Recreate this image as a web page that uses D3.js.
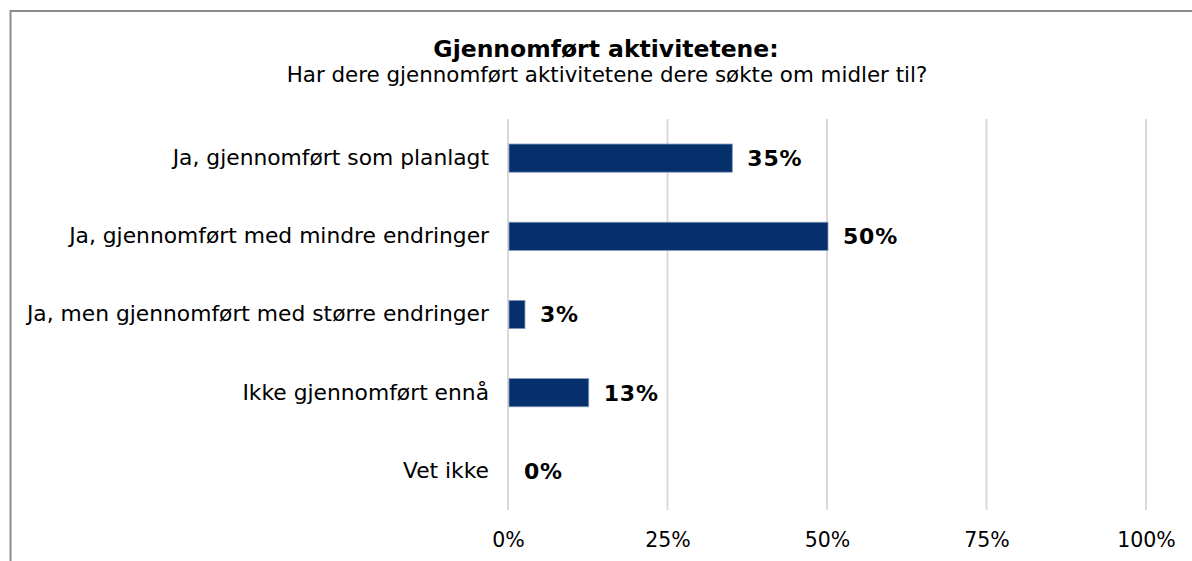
<!DOCTYPE html>
<html>
<head>
<meta charset="utf-8">
<script src="https://cdn.jsdelivr.net/npm/d3@7"></script>
<style>
  body { margin: 0; background: #fff; }
  text { font-family: "DejaVu Sans", Verdana, sans-serif; fill: #000; }
</style>
</head>
<body>
<script>
// chart data
var categories = [
    "Ja, gjennomført som planlagt",
    "Ja, gjennomført med mindre endringer",
    "Ja, men gjennomført med større endringer",
    "Ikke gjennomført ennå",
    "Vet ikke"
];
var values = [35, 50, 2.5, 12.5, 0];
var ticks = [0, 25, 50, 75, 100];

var W = 1192, H = 561;

var svg = d3.select("body").append("svg")
    .attr("width", W)
    .attr("height", H);

// outer frame (right/bottom edges fall outside the view)
svg.append("rect")
    .attr("x", 10.5)
    .attr("y", 11)
    .attr("width", 1200)
    .attr("height", 600)
    .attr("fill", "#fff")
    .attr("stroke", "#8c8c8c")
    .attr("stroke-width", 2);

// titles
svg.append("text")
    .attr("x", 606)
    .attr("y", 57)
    .attr("text-anchor", "middle")
    .style("font-size", "23.5px")
    .style("font-weight", "bold")
    .text("Gjennomført aktivitetene:");

svg.append("text")
    .attr("x", 607)
    .attr("y", 82)
    .attr("text-anchor", "middle")
    .style("font-size", "21.4px")
    .text("Har dere gjennomført aktivitetene dere søkte om midler til?");

// scales
var x = d3.scaleLinear().domain([0, 100]).range([508, 1146]);
var y = d3.scaleBand().domain(categories).range([119, 510])
    .paddingInner(0.64).paddingOuter(0.32);

// gridlines
svg.selectAll(".grid")
    .data(ticks)
    .enter().append("line")
    .attr("class", "grid")
    .attr("x1", function(d) { return x(d); })
    .attr("x2", function(d) { return x(d); })
    .attr("y1", 119)
    .attr("y2", 510)
    .attr("stroke", "#d9d9d9")
    .attr("stroke-width", 2);

// x axis labels
var xAxis = d3.axisBottom(x)
    .tickValues(ticks)
    .tickSize(0)
    .tickPadding(0)
    .tickFormat(function(d) { return d + "%"; });

var gx = svg.append("g")
    .attr("transform", "translate(0,532)")
    .call(xAxis);
gx.select(".domain").remove();
gx.selectAll("text")
    .style("font-family", "'DejaVu Sans', Verdana, sans-serif")
    .style("font-size", "20.5px")
    .attr("fill", "#000");

// category labels
var yAxis = d3.axisLeft(y).tickSize(0).tickPadding(0);
var gy = svg.append("g")
    .attr("transform", "translate(489,0)")
    .call(yAxis);
gy.select(".domain").remove();
gy.selectAll("text")
    .style("font-family", "'DejaVu Sans', Verdana, sans-serif")
    .style("font-size", "21.8px")
    .attr("fill", "#000");

// bars
svg.selectAll(".bar")
    .data(values)
    .enter().append("rect")
    .attr("class", "bar")
    .attr("x", x(0) + 1)
    .attr("y", function(d, i) { return y(categories[i]); })
    .attr("width", function(d) { return Math.max(0, x(d) - x(0)); })
    .attr("height", y.bandwidth())
    .attr("fill", "#06306b")
    .attr("stroke", function(d) { return d > 0 ? "#7d95bd" : "none"; })
    .attr("stroke-width", 0.8);

// value labels
svg.selectAll(".val")
    .data(values)
    .enter().append("text")
    .attr("class", "val")
    .attr("x", function(d) { return x(d) + 16; })
    .attr("y", function(d, i) { return y(categories[i]) + y.bandwidth() / 2; })
    .attr("dy", "0.36em")
    .style("font-size", "22px")
    .style("font-weight", "bold")
    .style("letter-spacing", "0.8px")
    .text(function(d) { return Math.round(d) + "%"; });
</script>
</body>
</html>
